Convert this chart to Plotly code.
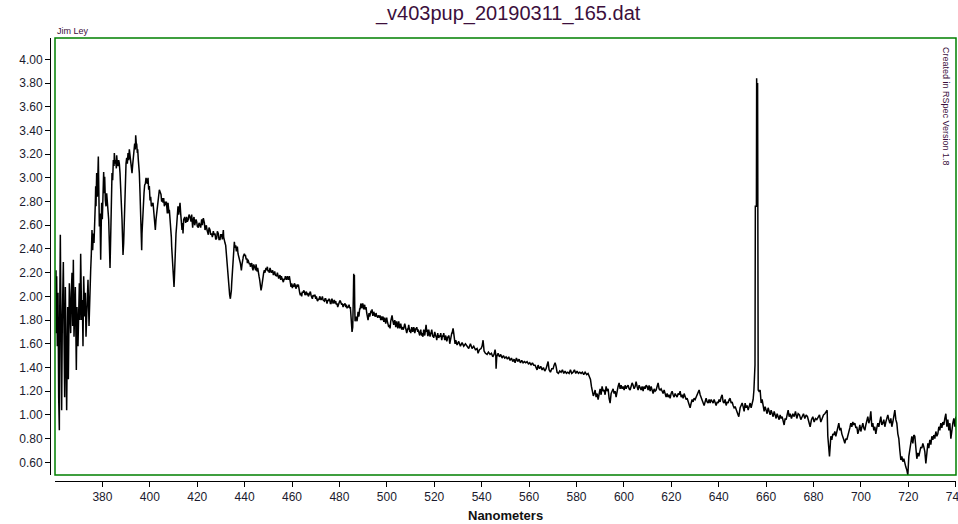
import plotly.graph_objects as go

# ---- data (wavelength nm, relative flux) ----
seg_blue = [
    (360.42, 2.22), (360.56, 1.69), (360.70, 2.17), (360.98, 1.58), (361.27, 2.03), (361.55, 1.15),
    (361.83, 0.87), (361.97, 1.80), (362.25, 2.52), (362.53, 1.75), (362.81, 1.04), (363.09, 1.80),
    (363.52, 2.29), (363.80, 1.69), (364.08, 1.15), (364.36, 2.08), (364.64, 1.52), (364.92, 1.04),
    (365.34, 1.91), (365.63, 1.30), (366.05, 2.11), (366.33, 1.80), (366.61, 1.69), (366.89, 2.03),
    (367.17, 2.20), (367.45, 1.75), (367.74, 2.31), (368.02, 1.66), (368.30, 1.86), (368.58, 2.08),
    (369.00, 1.38), (369.28, 1.91), (369.70, 1.58), (369.99, 2.03), (370.27, 2.11), (370.55, 1.80),
    (370.83, 2.36), (371.25, 1.80), (371.53, 1.97), (371.81, 1.58), (372.10, 2.17), (372.52, 1.83),
    (372.80, 2.03), (373.08, 1.66), (373.36, 1.91), (373.64, 2.03), (373.92, 2.14), (374.35, 1.75),
    (374.63, 2.08), (374.77, 1.94), (375.05, 2.22), (375.33, 2.36), (375.61, 2.56), (375.89, 2.39),
    (376.17, 2.53), (376.46, 2.45), (376.74, 2.56), (377.02, 2.79), (377.16, 2.93), (377.30, 2.76),
    (377.58, 3.04), (377.86, 2.84), (378.28, 3.18), (378.43, 2.93), (378.71, 2.59), (378.99, 2.70),
    (379.27, 2.31), (379.55, 2.65), (379.69, 2.79), (379.97, 2.65), (380.25, 2.81), (380.53, 3.05),
    (380.82, 2.87), (380.96, 3.01), (381.24, 2.81), (381.52, 2.76), (381.80, 2.87), (382.08, 2.79),
    (382.36, 2.70), (382.64, 2.65), (382.93, 2.45), (383.21, 2.24), (383.49, 2.50), (383.63, 2.65),
    (383.91, 2.93), (384.05, 3.04), (384.33, 2.98), (384.61, 3.15), (384.90, 3.10), (385.03, 3.21),
    (385.32, 3.12), (385.60, 3.15), (385.88, 3.08), (386.02, 3.19), (386.30, 3.12), (386.58, 3.10),
    (386.86, 3.15), (387.14, 3.12), (387.43, 3.04), (387.71, 2.93), (387.99, 2.79), (388.27, 2.65),
    (388.55, 2.45), (388.69, 2.35), (388.97, 2.45), (389.11, 2.56), (389.40, 2.84), (389.68, 3.07),
    (389.96, 3.12), (390.24, 3.17), (390.52, 3.12), (390.80, 3.21), (391.08, 3.15), (391.36, 3.24),
    (391.65, 3.17), (391.93, 3.12), (392.21, 3.08), (392.49, 3.04), (392.77, 3.11), (393.05, 3.18),
    (393.33, 3.25), (393.61, 3.29), (393.90, 3.24), (394.04, 3.36), (394.32, 3.28), (394.46, 3.29),
    (394.74, 3.21), (394.88, 3.24), (395.16, 3.15), (395.30, 3.12), (395.58, 3.04), (395.87, 2.87),
    (396.01, 2.79), (396.29, 2.56), (396.57, 2.39), (396.71, 2.53), (396.99, 2.70), (397.27, 2.81),
    (397.55, 2.87), (397.83, 2.94), (398.12, 2.95), (398.40, 3.00), (398.68, 2.98), (398.96, 2.95),
    (399.24, 3.00), (399.52, 2.90), (399.80, 2.93), (400.09, 2.81), (400.37, 2.84), (400.65, 2.76),
    (400.93, 2.77), (401.35, 2.79), (401.63, 2.73), (401.77, 2.70), (402.05, 2.65), (402.33, 2.56),
    (402.62, 2.65), (402.90, 2.70), (403.18, 2.76), (403.46, 2.79), (403.74, 2.84), (404.02, 2.90),
]

seg_balmer = [
    (404.72, 2.86), (405.00, 2.80), (405.28, 2.83), (405.57, 2.79), (405.85, 2.83), (406.13, 2.76),
    (406.41, 2.80), (406.69, 2.77), (406.97, 2.80), (407.25, 2.72), (407.39, 2.70), (407.68, 2.79),
    (407.82, 2.77), (408.10, 2.70), (408.24, 2.73), (408.52, 2.67), (408.66, 2.65), (408.94, 2.56),
    (409.08, 2.50), (409.22, 2.42), (409.50, 2.28), (409.79, 2.17), (409.93, 2.11), (410.21, 2.08),
    (410.35, 2.14), (410.63, 2.36), (410.77, 2.48), (411.05, 2.53), (411.33, 2.60), (411.47, 2.65),
    (411.75, 2.73), (411.89, 2.76), (412.18, 2.69), (412.32, 2.72), (412.60, 2.76), (412.74, 2.79),
    (413.02, 2.70), (413.16, 2.67), (413.44, 2.60), (413.58, 2.56), (413.86, 2.62), (414.00, 2.53),
    (414.29, 2.65), (414.43, 2.65), (414.71, 2.67), (414.85, 2.66), (415.13, 2.62), (415.55, 2.67),
    (415.83, 2.63), (416.26, 2.65), (416.54, 2.69), (416.96, 2.67), (417.38, 2.63), (417.66, 2.69),
    (418.08, 2.58), (418.37, 2.65), (418.65, 2.67), (418.93, 2.60), (419.21, 2.62), (419.49, 2.65),
    (419.77, 2.63), (420.05, 2.59), (420.47, 2.58), (420.76, 2.62), (421.18, 2.60), (421.46, 2.58),
    (421.88, 2.65), (422.16, 2.60), (422.58, 2.66), (423.01, 2.62), (423.29, 2.56), (423.57, 2.58),
    (423.85, 2.60), (424.13, 2.56), (424.41, 2.53), (424.69, 2.52), (424.98, 2.58), (425.40, 2.56),
    (425.68, 2.52), (426.10, 2.53), (426.38, 2.50), (426.80, 2.55), (427.09, 2.52), (427.51, 2.53),
    (427.79, 2.48), (428.21, 2.49), (428.49, 2.55), (428.91, 2.53), (429.19, 2.48), (429.62, 2.48),
    (429.90, 2.52), (430.32, 2.52), (430.60, 2.48), (431.02, 2.56), (431.16, 2.50), (431.45, 2.46),
    (431.73, 2.45), (432.01, 2.43), (432.15, 2.39), (432.43, 2.34), (432.71, 2.25), (432.85, 2.20),
    (433.13, 2.11), (433.27, 2.08), (433.56, 2.04), (433.69, 2.01), (433.98, 1.98), (434.12, 2.00),
    (434.40, 2.05), (434.54, 2.11), (434.82, 2.22), (434.96, 2.28), (435.24, 2.36), (435.38, 2.42),
    (435.66, 2.46), (435.81, 2.43), (436.09, 2.41), (436.23, 2.43), (436.51, 2.38), (436.79, 2.41),
    (436.93, 2.42), (437.21, 2.36), (437.35, 2.35), (437.63, 2.34), (437.92, 2.31), (438.20, 2.28),
    (438.48, 2.24), (438.62, 2.22), (438.90, 2.27), (439.04, 2.28), (439.32, 2.32), (439.46, 2.34),
    (439.74, 2.36), (439.88, 2.36), (440.17, 2.34), (440.31, 2.35), (440.59, 2.32), (440.73, 2.31),
    (441.01, 2.32), (441.15, 2.28), (441.43, 2.31), (441.57, 2.29), (441.85, 2.27), (442.00, 2.27),
    (442.28, 2.28), (442.42, 2.25), (442.70, 2.27), (442.98, 2.28), (443.26, 2.24), (443.54, 2.22),
    (443.82, 2.27), (444.10, 2.25), (444.39, 2.24), (444.67, 2.22), (444.81, 2.27), (445.09, 2.22),
    (445.23, 2.21), (445.51, 2.24), (445.65, 2.21), (445.93, 2.18), (446.07, 2.17), (446.35, 2.14),
    (446.50, 2.10), (446.78, 2.07), (446.92, 2.05), (447.20, 2.08), (447.34, 2.11), (447.62, 2.14),
    (447.76, 2.17), (448.04, 2.20), (448.32, 2.22), (448.60, 2.20), (448.75, 2.22), (449.03, 2.24),
    (449.31, 2.22), (449.59, 2.25), (449.87, 2.21), (450.15, 2.22), (450.43, 2.20), (450.71, 2.24),
    (451.00, 2.22), (451.28, 2.20), (451.56, 2.21), (451.84, 2.22), (452.12, 2.18), (452.40, 2.20),
    (452.68, 2.21), (452.96, 2.18), (453.25, 2.17), (453.53, 2.17), (453.81, 2.20), (454.09, 2.18),
    (454.37, 2.15), (454.65, 2.17), (454.93, 2.18), (455.21, 2.14), (455.50, 2.17), (455.78, 2.15),
    (456.06, 2.14), (456.34, 2.12), (456.62, 2.15), (456.90, 2.14), (457.18, 2.17), (457.46, 2.15),
    (457.75, 2.14), (458.03, 2.17), (458.31, 2.15), (458.59, 2.14), (458.87, 2.17), (459.15, 2.11),
    (459.43, 2.10), (459.57, 2.08), (459.86, 2.11), (460.14, 2.07), (460.42, 2.10), (460.70, 2.08),
    (460.98, 2.11), (461.26, 2.10), (461.54, 2.07), (461.82, 2.07), (462.11, 2.10), (462.39, 2.08),
    (462.67, 2.10), (462.95, 2.05), (463.23, 2.03), (463.51, 2.01), (463.79, 2.03), (464.07, 2.00),
    (464.36, 2.04), (464.64, 2.03), (464.92, 2.05), (465.20, 2.04), (465.48, 2.01), (465.76, 2.03),
    (466.04, 2.04), (466.33, 2.01), (466.61, 2.03), (466.89, 2.00), (467.17, 2.01), (467.45, 2.03),
    (467.73, 2.04), (468.01, 2.01), (468.30, 2.00), (468.58, 1.98), (468.86, 2.01), (469.14, 2.00),
    (469.42, 2.01), (469.70, 2.01), (469.98, 1.98), (470.26, 2.00), (470.55, 1.97), (470.83, 1.96),
    (471.11, 1.98), (471.39, 1.97), (471.67, 2.00), (471.95, 1.98), (472.23, 1.97), (472.52, 1.98),
    (472.80, 2.00), (473.08, 1.97), (473.36, 1.96), (473.64, 1.96), (473.92, 1.98), (474.20, 1.98),
    (474.48, 1.96), (474.77, 1.94), (475.05, 1.97), (475.33, 1.96), (475.61, 1.98), (475.89, 1.97),
    (476.17, 1.94), (476.45, 1.94), (476.73, 1.98), (477.02, 1.97), (477.30, 1.94), (477.58, 1.96),
    (477.86, 1.97), (478.14, 1.94), (478.42, 1.96), (478.70, 1.93), (478.98, 1.94), (479.27, 1.91),
    (479.55, 1.93), (479.83, 1.94), (480.11, 1.96), (480.39, 1.96), (480.67, 1.94), (480.95, 1.93),
    (481.23, 1.94), (481.52, 1.91), (481.80, 1.93), (482.08, 1.93), (482.36, 1.94), (482.64, 1.91),
    (482.92, 1.93), (483.20, 1.90), (483.49, 1.91), (483.77, 1.91), (484.05, 1.93), (484.33, 1.90),
    (484.61, 1.91),
]

seg_green = [
    (484.89, 1.79), (485.17, 1.74), (485.31, 1.70), (485.60, 1.74), (485.74, 1.82), (485.88, 2.01),
    (486.02, 2.19), (486.16, 2.12), (486.30, 2.18), (486.44, 1.93), (486.58, 1.79), (486.86, 1.82),
    (487.00, 1.83), (487.28, 1.80), (487.42, 1.79), (487.71, 1.84), (487.85, 1.87), (488.13, 1.83),
    (488.27, 1.84), (488.55, 1.90), (488.69, 1.89), (488.97, 1.93), (489.11, 1.94), (489.39, 1.90),
    (489.53, 1.91), (489.81, 1.94), (489.95, 1.93), (490.24, 1.89), (490.38, 1.90), (490.66, 1.93),
    (490.80, 1.89), (491.08, 1.90), (491.22, 1.91), (491.50, 1.86), (491.64, 1.83), (491.92, 1.82),
    (492.06, 1.80), (492.35, 1.84), (492.49, 1.86), (492.77, 1.83), (492.91, 1.84), (493.19, 1.86),
    (493.33, 1.88), (493.61, 1.86), (493.75, 1.89), (494.03, 1.84), (494.17, 1.84), (494.46, 1.87),
    (494.60, 1.86), (494.88, 1.83), (495.02, 1.83), (495.30, 1.84), (495.44, 1.86), (495.72, 1.83),
    (495.86, 1.84), (496.14, 1.82), (496.28, 1.83), (496.57, 1.84), (496.71, 1.83), (496.99, 1.82),
    (497.13, 1.84), (497.41, 1.80), (497.55, 1.82), (497.83, 1.83), (497.97, 1.80), (498.25, 1.82),
    (498.39, 1.83), (498.68, 1.79), (498.82, 1.79), (499.10, 1.82), (499.24, 1.80), (499.52, 1.77),
    (499.66, 1.79), (499.94, 1.82), (500.08, 1.80), (500.36, 1.77), (500.50, 1.77), (500.79, 1.74),
    (500.93, 1.76), (501.21, 1.73), (501.35, 1.73), (501.63, 1.79), (501.77, 1.80), (502.05, 1.83),
    (502.19, 1.84), (502.47, 1.80), (502.61, 1.79), (502.90, 1.76), (503.04, 1.77), (503.32, 1.80),
    (503.46, 1.79), (503.74, 1.74), (503.88, 1.76), (504.16, 1.79), (504.30, 1.77), (504.58, 1.73),
    (504.72, 1.74), (505.00, 1.79), (505.15, 1.77), (505.43, 1.73), (505.57, 1.74), (505.85, 1.77),
    (505.99, 1.76), (506.27, 1.72), (506.41, 1.73), (506.69, 1.74), (506.83, 1.72), (507.11, 1.73),
    (507.26, 1.74), (507.54, 1.77), (507.68, 1.76), (507.96, 1.73), (508.10, 1.72), (508.38, 1.69),
    (508.52, 1.70), (508.80, 1.73), (508.94, 1.72), (509.22, 1.76), (509.37, 1.74), (509.65, 1.70),
    (509.79, 1.72), (510.07, 1.69), (510.21, 1.70), (510.49, 1.74), (510.63, 1.73), (510.91, 1.70),
    (511.05, 1.72), (511.33, 1.74), (511.48, 1.73), (511.76, 1.69), (511.90, 1.70), (512.18, 1.73),
    (512.32, 1.72), (512.60, 1.74), (512.74, 1.73), (513.02, 1.70), (513.16, 1.72), (513.44, 1.69),
    (513.59, 1.70), (513.87, 1.67), (514.01, 1.69), (514.29, 1.72), (514.43, 1.70), (514.71, 1.67),
    (514.85, 1.69), (515.13, 1.66), (515.27, 1.67), (515.55, 1.72), (515.70, 1.70), (515.98, 1.67),
    (516.12, 1.69), (516.40, 1.74), (516.54, 1.76), (516.82, 1.70), (516.96, 1.72), (517.24, 1.67),
    (517.38, 1.67), (517.66, 1.72), (517.81, 1.70), (518.09, 1.66), (518.23, 1.66), (518.51, 1.69),
    (518.65, 1.69), (518.93, 1.72), (519.07, 1.70), (519.35, 1.66), (519.49, 1.67), (519.77, 1.65),
    (519.92, 1.66), (520.20, 1.70), (520.34, 1.69), (520.62, 1.66), (520.76, 1.67), (521.04, 1.63),
    (521.18, 1.65), (521.46, 1.69), (521.60, 1.67), (521.88, 1.65), (522.02, 1.66), (522.31, 1.67),
    (522.45, 1.66), (522.73, 1.69), (522.87, 1.67), (523.15, 1.63), (523.29, 1.65), (523.57, 1.67),
    (523.71, 1.66), (523.99, 1.69), (524.13, 1.67), (524.41, 1.63), (524.56, 1.65), (524.84, 1.67),
    (524.98, 1.66), (525.26, 1.62), (525.40, 1.63), (525.68, 1.66), (525.82, 1.65), (526.10, 1.67),
    (526.24, 1.66), (526.53, 1.60), (526.67, 1.62), (526.95, 1.65), (527.09, 1.66), (527.37, 1.69),
    (527.51, 1.69), (527.79, 1.72), (527.93, 1.73), (528.21, 1.69), (528.35, 1.67), (528.64, 1.62),
    (528.78, 1.60), (529.06, 1.63), (529.20, 1.62), (529.62, 1.59), (530.32, 1.62), (531.03, 1.58),
    (531.73, 1.61), (532.43, 1.58), (533.14, 1.60), (533.84, 1.58), (534.54, 1.56), (535.25, 1.60),
    (535.95, 1.56), (536.65, 1.58), (537.35, 1.55), (538.06, 1.56), (538.48, 1.52), (539.04, 1.55),
    (539.75, 1.56), (540.17, 1.58), (540.59, 1.63), (541.01, 1.54), (541.57, 1.52), (542.28, 1.51),
    (542.84, 1.53), (543.54, 1.51), (544.11, 1.52), (544.67, 1.49), (545.23, 1.51), (545.65, 1.55),
    (545.94, 1.51), (546.08, 1.39), (546.36, 1.49), (546.92, 1.52), (547.48, 1.49), (548.05, 1.51),
    (548.61, 1.48), (549.17, 1.50), (549.73, 1.48), (550.30, 1.49), (550.86, 1.47), (551.42, 1.49),
    (551.98, 1.46), (552.55, 1.48), (553.11, 1.45), (553.67, 1.47), (554.09, 1.44), (554.65, 1.48),
    (555.22, 1.45), (555.78, 1.47), (556.34, 1.44), (556.90, 1.46), (557.47, 1.44), (558.03, 1.45),
    (558.59, 1.44), (559.15, 1.45), (559.72, 1.43), (560.28, 1.44), (560.84, 1.42), (561.40, 1.44),
    (561.97, 1.42), (562.53, 1.42), (562.95, 1.39), (563.37, 1.38), (563.79, 1.42), (564.36, 1.39),
    (564.92, 1.41), (565.48, 1.38), (566.05, 1.40), (566.61, 1.37), (567.17, 1.39), (567.59, 1.42),
    (568.02, 1.45), (568.44, 1.38), (569.00, 1.36), (569.56, 1.39), (570.13, 1.39), (570.55, 1.42),
    (570.97, 1.44), (571.39, 1.41), (571.81, 1.36), (572.38, 1.35), (572.94, 1.37), (573.50, 1.36),
    (574.06, 1.38), (574.63, 1.35), (575.19, 1.37), (575.75, 1.35), (576.31, 1.36), (576.88, 1.35),
    (577.44, 1.38), (578.00, 1.35), (578.56, 1.36), (579.13, 1.38), (579.69, 1.35), (580.25, 1.37),
    (580.81, 1.35), (581.38, 1.36), (581.94, 1.35), (582.50, 1.36), (583.07, 1.34), (583.63, 1.36),
    (584.33, 1.34), (584.89, 1.35), (585.40, 1.33), (585.90, 1.30), (586.30, 1.24), (586.70, 1.20),
    (587.10, 1.16), (587.50, 1.18),
]

seg_red = [
    (587.85, 1.21), (588.27, 1.15), (588.69, 1.18), (589.12, 1.13), (589.54, 1.20), (589.96, 1.22),
    (590.38, 1.17), (590.80, 1.24), (591.23, 1.20), (591.65, 1.21), (592.07, 1.17), (592.49, 1.24),
    (592.91, 1.20), (593.34, 1.22), (593.76, 1.14), (594.18, 1.10), (594.60, 1.18), (595.02, 1.20),
    (595.45, 1.22), (595.87, 1.18), (596.29, 1.20), (596.71, 1.15), (597.13, 1.22), (597.55, 1.24),
    (597.98, 1.27), (598.40, 1.22), (598.82, 1.25), (599.24, 1.22), (599.66, 1.24), (600.09, 1.21),
    (600.51, 1.25), (600.93, 1.22), (601.35, 1.24), (601.77, 1.25), (602.20, 1.22), (602.62, 1.21),
    (603.04, 1.24), (603.46, 1.27), (603.88, 1.25), (604.31, 1.22), (604.73, 1.24), (605.15, 1.28),
    (605.57, 1.24), (605.99, 1.21), (606.42, 1.25), (606.84, 1.22), (607.26, 1.21), (607.68, 1.24),
    (608.10, 1.20), (608.53, 1.24), (608.95, 1.22), (609.37, 1.25), (609.79, 1.24), (610.21, 1.21),
    (610.63, 1.25), (611.06, 1.20), (611.48, 1.24), (611.90, 1.21), (612.32, 1.18), (612.74, 1.22),
    (613.17, 1.20), (613.59, 1.21), (614.01, 1.24), (614.43, 1.27), (614.85, 1.22), (615.28, 1.21),
    (615.70, 1.22), (616.12, 1.20), (616.54, 1.18), (616.96, 1.21), (617.39, 1.17), (617.81, 1.15),
    (618.23, 1.18), (618.65, 1.15), (619.07, 1.17), (619.50, 1.14), (619.92, 1.18), (620.34, 1.20),
    (620.76, 1.17), (621.18, 1.15), (621.61, 1.18), (622.03, 1.17), (622.45, 1.15), (622.87, 1.18),
    (623.29, 1.17), (623.72, 1.20), (624.14, 1.15), (624.56, 1.17), (624.98, 1.14), (625.40, 1.18),
    (625.83, 1.14), (626.25, 1.13), (626.67, 1.14), (627.09, 1.11), (627.51, 1.08), (627.94, 1.06),
    (628.36, 1.10), (628.78, 1.13), (629.20, 1.11), (629.62, 1.14), (630.05, 1.13), (630.47, 1.15),
    (630.89, 1.17), (631.31, 1.18), (631.73, 1.21), (632.16, 1.17), (632.58, 1.15), (633.00, 1.13),
    (633.42, 1.11), (633.84, 1.08), (634.26, 1.11), (634.69, 1.14), (635.11, 1.11), (635.53, 1.10),
    (635.95, 1.13), (636.37, 1.10), (636.80, 1.13), (637.22, 1.11), (637.64, 1.10), (638.06, 1.13),
    (638.48, 1.11), (638.91, 1.08), (639.33, 1.11), (639.75, 1.10), (640.17, 1.13), (640.59, 1.11),
    (641.02, 1.15), (641.44, 1.17), (641.86, 1.11), (642.28, 1.10), (642.70, 1.13), (643.13, 1.08),
    (643.55, 1.11), (643.97, 1.10), (644.39, 1.13), (644.81, 1.14), (645.24, 1.10), (645.66, 1.11),
    (646.08, 1.08), (646.50, 1.06), (646.92, 1.07), (647.35, 1.04), (647.77, 1.03), (648.19, 1.00),
    (648.47, 0.985), (648.75, 1.03), (649.03, 1.06), (649.45, 1.08), (649.87, 1.10), (650.30, 1.07),
    (650.72, 1.03), (651.14, 1.10), (651.56, 1.06), (651.98, 1.08), (652.41, 1.04), (652.83, 1.07),
    (653.25, 1.10), (653.67, 1.06), (654.09, 1.10), (654.52, 1.13),
]

seg_halpha = [
    (654.85, 1.21), (655.00, 1.41), (655.30, 1.42), (655.45, 2.76), (655.90, 2.76), (656.00, 3.84),
    (656.10, 3.00), (656.20, 3.84), (656.30, 3.00), (656.40, 3.80), (656.55, 2.76), (656.65, 1.21),
    (657.00, 1.20), (657.47, 1.21),
]

seg_far_red = [
    (657.89, 1.10), (658.31, 1.13), (658.74, 1.08), (659.16, 1.03), (659.58, 1.07), (660.00, 1.04),
    (660.42, 1.01), (660.85, 1.06), (661.27, 1.03), (661.69, 1.00), (662.11, 1.04), (662.53, 1.01),
    (662.96, 0.985), (663.38, 1.03), (663.80, 1.00), (664.22, 0.97), (664.64, 1.01), (665.07, 0.985),
    (665.49, 0.96), (665.91, 1.00), (666.33, 0.97), (666.75, 0.985), (667.18, 0.94), (667.60, 0.915),
    (668.02, 0.97), (668.44, 0.96), (668.86, 1.00), (669.29, 1.04), (669.71, 0.985), (670.13, 1.01),
    (670.69, 0.97), (671.26, 1.01), (671.82, 0.985), (672.38, 1.03), (672.94, 0.97), (673.51, 1.01),
    (674.07, 1.00), (674.63, 0.96), (675.19, 0.985), (675.76, 1.01), (676.32, 0.97), (676.88, 1.00),
    (677.44, 0.985), (678.01, 0.94), (678.57, 0.90), (679.13, 0.96), (679.69, 0.985), (680.26, 0.94),
    (680.82, 0.97), (681.38, 0.96), (681.94, 0.985), (682.51, 1.00), (683.07, 0.94), (683.63, 0.97),
    (684.20, 1.00), (684.76, 1.01), (685.32, 1.03), (685.74, 1.04), (686.02, 0.82), (686.45, 0.68),
    (686.73, 0.65), (687.01, 0.73), (687.29, 0.82), (687.71, 0.79), (688.13, 0.84), (688.56, 0.83),
    (688.98, 0.86), (689.40, 0.82), (689.82, 0.86), (690.24, 0.90), (690.66, 0.93), (691.09, 0.87),
    (691.51, 0.89), (691.93, 0.84), (692.35, 0.82), (692.77, 0.79), (693.20, 0.76), (693.62, 0.80),
    (694.04, 0.79), (694.46, 0.82), (694.88, 0.84), (695.31, 0.89), (695.73, 0.93), (696.15, 0.90),
    (696.57, 0.94), (696.99, 0.915), (697.42, 0.93), (697.84, 0.89), (698.26, 0.90), (698.68, 0.84),
    (699.10, 0.87), (699.53, 0.915), (699.95, 0.86), (700.37, 0.90), (700.79, 0.93), (701.21, 0.89),
    (701.64, 0.87), (702.06, 0.915), (702.48, 0.94), (702.90, 0.985), (703.32, 0.93), (703.75, 0.96),
    (704.17, 1.03), (704.59, 0.90), (705.01, 0.93), (705.43, 0.87), (705.86, 0.90), (706.28, 0.84),
    (706.70, 0.89), (707.12, 0.93), (707.54, 0.90), (707.97, 0.94), (708.39, 0.985), (708.81, 0.915),
    (709.23, 0.93), (709.65, 0.96), (710.08, 0.90), (710.50, 0.94), (710.92, 0.985), (711.34, 1.00),
    (711.76, 0.96), (712.19, 0.93), (712.61, 0.97), (713.03, 0.90), (713.45, 0.94), (713.87, 0.985),
    (714.30, 1.04), (714.72, 0.96), (715.14, 0.93), (715.56, 0.84), (715.98, 0.80), (716.41, 0.70),
    (716.83, 0.62), (717.25, 0.65), (717.67, 0.605), (718.09, 0.63), (718.51, 0.58), (718.94, 0.56),
    (719.36, 0.535), (719.78, 0.493), (720.20, 0.65), (720.62, 0.72), (721.05, 0.77), (721.47, 0.82),
    (721.89, 0.76), (722.31, 0.83), (722.73, 0.82), (723.16, 0.68), (723.58, 0.63), (724.00, 0.68),
    (724.42, 0.65), (724.84, 0.69), (725.27, 0.73), (725.69, 0.72), (726.11, 0.76), (726.53, 0.73),
    (726.95, 0.69), (727.38, 0.59), (727.80, 0.70), (728.22, 0.76), (728.64, 0.72), (729.06, 0.79),
    (729.49, 0.75), (729.91, 0.82), (730.33, 0.79), (730.75, 0.83), (731.17, 0.80), (731.60, 0.86),
    (732.02, 0.82), (732.44, 0.84), (732.86, 0.90), (733.28, 0.87), (733.71, 0.93), (734.13, 0.89),
    (734.55, 0.94), (734.97, 0.915), (735.39, 0.97), (735.82, 1.01), (736.24, 0.90), (736.66, 0.96),
    (737.08, 0.87), (737.50, 0.93), (737.93, 0.80), (738.35, 0.89), (738.77, 0.93), (739.19, 0.97),
    (739.61, 0.90), (740.04, 0.985), (740.32, 0.87),
]

x_tick_values = [380, 400, 420, 440, 460, 480, 500, 520, 540, 560, 580, 600, 620, 640, 660, 680, 700, 720, 740]
x_tick_labels = [str(v) for v in x_tick_values]
y_tick_values = [0.6, 0.8, 1.0, 1.2, 1.4, 1.6, 1.8, 2.0, 2.2, 2.4, 2.6, 2.8, 3.0, 3.2, 3.4, 3.6, 3.8, 4.0]
y_tick_labels = ["%.2f" % v for v in y_tick_values]

chart_title = "_v403pup_20190311_165.dat"
x_title = "Nanometers"
author_text = "Jim Ley"
credit_text = "Created in RSpec Version 1.8"

# ---- build ----
points = seg_blue + seg_balmer + seg_green + seg_red + seg_halpha + seg_far_red
wavelength = [p[0] for p in points]
flux = [p[1] for p in points]

W, H = 958, 524
ML, MR, MT, MB = 50, 2, 38, 43
PW = W - ML - MR
PH = H - MT - MB

FONT = "Liberation Sans, Arial, sans-serif"
TICK_COLOR = "#1a1a2e"
TEXT_PURPLE = "#3c0f3c"

fig = go.Figure()
fig.add_trace(go.Scatter(
    x=wavelength, y=flux, mode="lines",
    line=dict(color="black", width=1.5),
    hoverinfo="skip", showlegend=False,
))

fig.update_layout(
    width=W, height=H,
    margin=dict(l=ML, r=MR, t=MT, b=MB, pad=0),
    paper_bgcolor="white", plot_bgcolor="white",
    showlegend=False,
    xaxis=dict(
        domain=[5 / PW, 1], range=[360.0, 740.1],
        anchor="free", position=0, automargin=False,
        showline=True, linecolor="black", linewidth=1,
        ticks="outside", ticklen=5, tickwidth=1, tickcolor="black",
        tickvals=x_tick_values, ticktext=x_tick_labels,
        ticklabeloverflow="allow",
        tickfont=dict(family=FONT, size=12, color=TICK_COLOR),
        showgrid=False, zeroline=False,
    ),
    yaxis=dict(
        domain=[6 / PH, 1], range=[0.493, 4.18],
        anchor="free", position=0, automargin=False,
        showline=True, linecolor="black", linewidth=1,
        ticks="outside", ticklen=5, tickwidth=1, tickcolor="black",
        tickvals=y_tick_values, ticktext=y_tick_labels,
        tickfont=dict(family=FONT, size=12, color=TICK_COLOR),
        showgrid=False, zeroline=False,
    ),
    shapes=[dict(
        type="rect", xref="x domain", yref="y domain",
        x0=0, x1=1, y0=0, y1=1,
        line=dict(color="#008000", width=1.5), layer="above",
    )],
    annotations=[
        dict(text=chart_title, xref="paper", yref="paper",
             x=(508 - ML) / PW, y=(H - MB - 14) / PH,
             xanchor="center", yanchor="middle", showarrow=False,
             font=dict(family=FONT, size=20, color=TEXT_PURPLE)),
        dict(text="<b>" + x_title + "</b>", xref="paper", yref="paper",
             x=(505 - ML) / PW, y=(H - MB - 515) / PH,
             xanchor="center", yanchor="middle", showarrow=False,
             font=dict(family=FONT, size=13, color="#111111")),
        dict(text=author_text, xref="paper", yref="paper",
             x=(55 - ML) / PW, y=(H - MB - 31) / PH,
             xanchor="left", yanchor="middle", showarrow=False,
             font=dict(family=FONT, size=9, color=TEXT_PURPLE)),
        dict(text=credit_text, xref="paper", yref="paper",
             x=(946 - ML) / PW, y=(H - MB - 106) / PH,
             xanchor="center", yanchor="middle", showarrow=False, textangle=90,
             font=dict(family=FONT, size=9, color=TEXT_PURPLE)),
    ],
)

fig.write_html(
    "out.html",
    config={"displayModeBar": False},
    post_script="document.body.style.margin='0';document.body.style.padding='0';"
                "document.body.style.overflow='hidden';",
)
